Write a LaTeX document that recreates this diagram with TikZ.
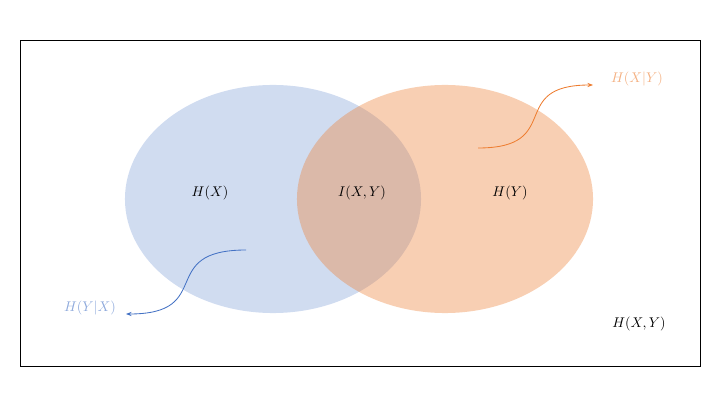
\documentclass[tikz,border=0pt]{standalone}
\usetikzlibrary{shapes.geometric,arrows.meta}
\definecolor{xblue}{HTML}{4472C4}
\definecolor{yorange}{HTML}{ED7D31}
\definecolor{lblue}{HTML}{8FAADC}
\definecolor{lorange}{HTML}{F4B183}
\begin{document}
\begin{tikzpicture}[x=0.025cm,y=-0.025cm]
\useasboundingbox (0,0) rectangle (720,405);
\draw[line width=0.6pt] (20,40) rectangle (700,366);

\begin{scope}[every node/.style={ellipse,inner sep=0pt,minimum width=7.4cm,minimum height=5.7cm}]
    \node[fill=xblue,fill opacity=0.25] (X) at (273,199) {};
    \node[fill=yorange,fill opacity=0.37] (Y) at (445,199) {};
\end{scope}

\begin{scope}[every node/.style={inner sep=1pt}]
    \node (1) at (210,193) {$H(X)$};
    \node (2) at (362,193) {$I(X,Y)$};
    \node (3) at (510,193) {$H(Y)$};
    \node (4) at (639,324) {$H(X,Y)$};
    \node[text=lorange] (5) at (637,79) {$H(X|Y)$};
    \node[text=lblue] (6) at (90,308) {$H(Y|X)$};
\end{scope}

\coordinate (a) at (478,148);
\coordinate (b) at (246,250);
\coordinate (c) at (593,85);
\coordinate (d) at (126,314);

\begin{scope}[every edge/.style={draw,line width=0.6pt,-{Stealth[length=4pt,width=3pt]},looseness=1.7}]
    \path (a) edge[yorange,out=0,in=180] (c);
    \path (b) edge[xblue,out=180,in=0] (d);
\end{scope}
\end{tikzpicture}
\end{document}
